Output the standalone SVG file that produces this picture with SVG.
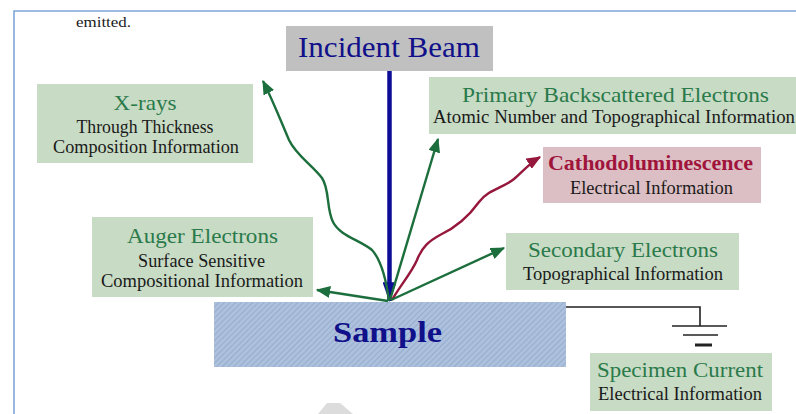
<svg xmlns="http://www.w3.org/2000/svg" width="796" height="414" viewBox="0 0 796 414">
<style>
  .t { font-family: "Liberation Serif", "Times New Roman", serif; text-anchor: middle; }
  .h { font-size: 22px; fill: #2a7a4a; }
  .hr { font-size: 22px; fill: #a0143c; font-weight: bold; }
  .s { font-size: 18px; fill: #1a1a1a; }
  .gbox { fill: #c8dbc5; }
  .pbox { fill: #dcbfc4; }
  .garrow { fill: none; stroke: #1c6e3c; stroke-width: 2.4; marker-end: url(#ga); }
  .rarrow { fill: none; stroke: #96173c; stroke-width: 2.4; marker-end: url(#ra); }
  .gnd { stroke: #222; stroke-width: 1.6; fill: none; }
</style>
<defs>
  <marker id="ga" viewBox="0 0 12 10" refX="11" refY="5" markerWidth="6" markerHeight="5" orient="auto" markerUnits="strokeWidth">
    <path d="M0,0 L12,5 L0,10 Z" fill="#1c6e3c"/>
  </marker>
  <marker id="ra" viewBox="0 0 12 10" refX="11" refY="5" markerWidth="6" markerHeight="5" orient="auto" markerUnits="strokeWidth">
    <path d="M0,0 L12,5 L0,10 Z" fill="#96173c"/>
  </marker>
  <marker id="ba" viewBox="0 0 20 14" refX="19" refY="7" markerWidth="4.4" markerHeight="3.1" orient="auto" markerUnits="strokeWidth">
    <path d="M0,0 L20,7 L0,14 Z" fill="#0c0c96"/>
  </marker>
  <pattern id="hatch" width="4" height="4" patternUnits="userSpaceOnUse" patternTransform="rotate(45)">
    <rect width="4" height="4" fill="#adc1dd"/>
    <line x1="0" y1="0" x2="0" y2="4" stroke="#8fa7cb" stroke-width="1.5"/>
  </pattern>
</defs>
<rect width="796" height="414" fill="#ffffff"/>
<path d="M14,414 L14,11 L796,11" fill="none" stroke="#7fa6d8" stroke-width="1.6"/>
<text class="t" x="103.5" y="27" font-size="14" fill="#1a1a1a" textLength="55" lengthAdjust="spacingAndGlyphs">emitted.</text>
<polygon points="327,403 340,403 353,414 318,414" fill="#dcdcdc"/>

<g id="incident-beam">
  <rect x="286" y="26" width="207" height="45" fill="#c0c0c0"/>
  <text class="t" x="389" y="57" font-size="30" fill="#10108a" textLength="182" lengthAdjust="spacingAndGlyphs">Incident Beam</text>
</g>

<g id="sample">
  <rect x="214" y="302" width="352" height="65" fill="url(#hatch)"/>
  <text class="t" x="387.5" y="342" font-size="30" font-weight="bold" fill="#10108a" textLength="109" lengthAdjust="spacingAndGlyphs">Sample</text>
</g>

<g id="x-rays">
  <rect class="gbox" x="37" y="84" width="216" height="79"/>
  <text class="t h" x="145" y="110" textLength="63" lengthAdjust="spacingAndGlyphs">X-rays</text>
  <text class="t s" x="145" y="133" textLength="137" lengthAdjust="spacingAndGlyphs">Through Thickness</text>
  <text class="t s" x="146" y="153" textLength="186" lengthAdjust="spacingAndGlyphs">Composition Information</text>
</g>

<g id="primary-backscattered">
  <rect class="gbox" x="429" y="77" width="367" height="57"/>
  <text class="t h" x="615.5" y="102" textLength="307" lengthAdjust="spacingAndGlyphs">Primary Backscattered Electrons</text>
  <text class="t s" x="614" y="123" textLength="362" lengthAdjust="spacingAndGlyphs">Atomic Number and Topographical Information</text>
</g>

<g id="cathodoluminescence">
  <rect class="pbox" x="543" y="147" width="218" height="56"/>
  <text class="t hr" x="650.5" y="170" textLength="205" lengthAdjust="spacingAndGlyphs">Cathodoluminescence</text>
  <text class="t s" x="651.5" y="194" textLength="163" lengthAdjust="spacingAndGlyphs">Electrical Information</text>
</g>

<g id="auger-electrons">
  <rect class="gbox" x="92" y="217" width="221" height="80"/>
  <text class="t h" x="202.5" y="243" textLength="151" lengthAdjust="spacingAndGlyphs">Auger Electrons</text>
  <text class="t s" x="201.5" y="267" textLength="127" lengthAdjust="spacingAndGlyphs">Surface Sensitive</text>
  <text class="t s" x="202" y="287" textLength="202" lengthAdjust="spacingAndGlyphs">Compositional Information</text>
</g>

<g id="secondary-electrons">
  <rect class="gbox" x="506" y="233" width="233" height="57"/>
  <text class="t h" x="623" y="257" textLength="190" lengthAdjust="spacingAndGlyphs">Secondary Electrons</text>
  <text class="t s" x="623" y="280" textLength="200" lengthAdjust="spacingAndGlyphs">Topographical Information</text>
</g>

<g id="specimen-current">
  <rect class="gbox" x="590" y="353" width="182" height="58"/>
  <text class="t h" x="680" y="377" textLength="166" lengthAdjust="spacingAndGlyphs">Specimen Current</text>
  <text class="t s" x="680" y="400" textLength="164" lengthAdjust="spacingAndGlyphs">Electrical Information</text>
</g>

<g id="ground">
  <path class="gnd" d="M566,307 L700,307 L700,326"/>
  <line class="gnd" x1="672" y1="326" x2="727" y2="326"/>
  <line class="gnd" x1="683" y1="335" x2="718" y2="335"/>
  <line x1="695" y1="345" x2="712" y2="345" stroke="#222" stroke-width="3"/>
</g>

<g id="connectors">
  <line x1="389.5" y1="71" x2="389.5" y2="301" stroke="#0c0c96" stroke-width="4.5" marker-end="url(#ba)"/>
  <path class="garrow" d="M389,301 C386,278 381,260 372,250 C360,240 340,236 333,222 C326,208 330,190 322,178 C312,165 296,155 289,140 C282,124 274,103 263,81"/>
  <path class="garrow" d="M390,300 L438,139"/>
  <path class="rarrow" d="M392,300 C400,286 412,272 417,260 C422,247 429,241 440,235 C455,228 469,216 479,202 C489,189 503,188 514,179 C523,171 530,163 540,157"/>
  <path class="garrow" d="M391,300 L504,248"/>
  <path class="garrow" d="M388,301 L317,290"/>
</g>
</svg>
